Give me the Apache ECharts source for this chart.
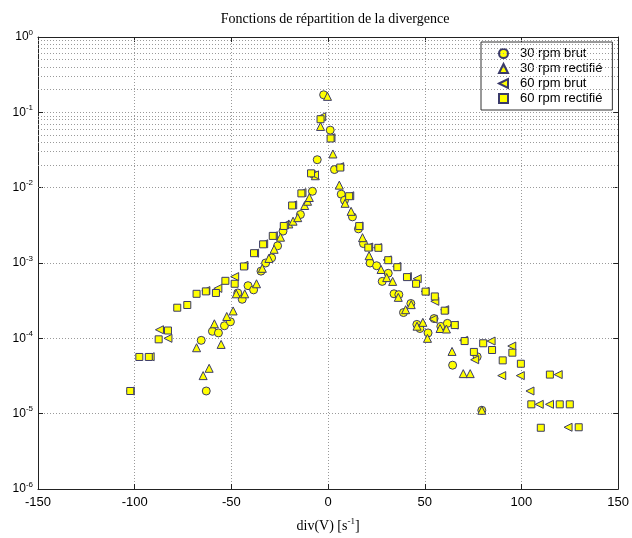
<!DOCTYPE html>
<html>
<head>
<meta charset="utf-8">
<script src="https://cdn.jsdelivr.net/npm/echarts@6/dist/echarts.min.js"></script>
<style>
html,body{margin:0;padding:0;background:#fff;}
#chart{width:632px;height:538px;}
</style>
</head>
<body>
<div id="chart"></div>
<script>
// ---- data ----
const seriesNames = ['30 rpm brut', '30 rpm rectifié', '60 rpm brut', '60 rpm rectifié'];

const c30brut = [[-65.6,9.4e-5],[-63.0,2.0e-5],[-59.8,1.24e-4],[-56.7,1.18e-4],[-53.6,1.47e-4],[-50.5,1.66e-4],[-46.7,4.0e-4],[-44.4,3.3e-4],[-41.4,5.0e-4],[-38.5,4.4e-4],[-34.7,7.8e-4],[-32.3,1.0e-3],[-29.2,1.17e-3],[-26.1,1.69e-3],[-23.3,2.65e-3],[-14.3,4.4e-3],[-8.1,8.95e-3],[-7.5,1.5e-2],[-5.6,2.35e-2],[-2.3,0.171],[1.1,0.058],[3.3,0.0174],[6.8,0.0082],[8.5,0.0068],[12.6,0.0041],[15.7,0.00284],[18.3,0.00181],[21.7,1.0e-3],[25.1,9.2e-4],[28.0,5.7e-4],[31.1,7.3e-4],[34.1,3.9e-4],[36.6,3.8e-4],[39.0,2.2e-4],[42.8,2.9e-4],[45.9,1.53e-4],[47.5,1.35e-4],[51.7,1.18e-4],[54.8,1.83e-4],[58.3,1.44e-4],[61.7,1.58e-4],[64.4,4.4e-5],[77.1,5.7e-5],[79.5,1.11e-5]];

const c30rect = [[-68.0,7.5e-5],[-64.6,3.2e-5],[-61.5,4.0e-5],[-58.8,1.56e-4],[-55.3,8.3e-5],[-52.4,1.95e-4],[-49.1,2.31e-4],[-47.5,3.9e-4],[-43.1,3.9e-4],[-37.0,5.3e-4],[-34.0,8.5e-4],[-30.6,1.15e-3],[-27.9,1.52e-3],[-24.6,2.2e-3],[-20.3,3.3e-3],[-18.1,3.59e-3],[-15.7,4.0e-3],[-12.1,5.8e-3],[-10.6,6.6e-3],[-9.7,7.4e-3],[-6.6,1.44e-2],[-3.9,0.065],[-0.3,0.163],[2.5,0.028],[5.8,0.0108],[8.8,0.0062],[11.9,0.00485],[17.8,0.00217],[21.2,0.00125],[27.4,8.2e-4],[30.3,6.4e-4],[33.4,5.7e-4],[36.3,3.5e-4],[40.1,2.4e-4],[43.0,2.8e-4],[46.0,1.45e-4],[49.0,1.63e-4],[51.4,1.0e-4],[57.9,1.35e-4],[61.2,1.33e-4],[64.1,6.7e-5],[69.9,3.4e-5],[73.5,3.4e-5],[79.5,1.11e-5]];

const c60brut = [[-102.3,2.0e-5],[-92.0,5.7e-5],[-87.2,1.3e-4],[-82.8,1.0e-4],[-63.2,4.3e-4],[-57.0,4.6e-4],[-48.3,6.6e-4],[-43.5,9.3e-4],[-38.0,1.35e-3],[-33.3,1.8e-3],[-28.3,2.3e-3],[-22.6,3.2e-3],[-18.3,5.9e-3],[-13.5,8.6e-3],[-7.0,1.48e-2],[-3.3,0.0875],[1.5,0.046],[6.0,0.019],[11.2,0.0078],[16.0,0.0031],[21.0,0.00163],[25.6,0.0016],[30.6,1.1e-3],[35.5,9.0e-4],[41.0,6.6e-4],[46.1,6.2e-4],[50.2,4.2e-4],[54.3,1.8e-4],[55.2,3.1e-4],[60.3,2.4e-4],[65.2,1.5e-4],[70.1,9.4e-5],[75.8,5.2e-5],[84.3,9.2e-5],[89.8,3.2e-5],[95.0,7.9e-5],[99.4,3.2e-5],[104.4,2.0e-5],[109.2,1.33e-5],[114.5,1.33e-5],[119.0,3.3e-5],[124.1,6.6e-6]];

const c60rect = [[-102.3,2.0e-5],[-97.6,5.66e-5],[-92.7,5.66e-5],[-87.6,9.7e-5],[-82.8,1.27e-4],[-78.0,2.55e-4],[-72.8,2.77e-4],[-68.0,3.9e-4],[-63.2,4.2e-4],[-58.0,4.0e-4],[-53.1,5.8e-4],[-48.3,5.3e-4],[-43.5,9.0e-4],[-38.3,1.35e-3],[-33.6,1.77e-3],[-28.6,2.29e-3],[-22.9,3.1e-3],[-18.6,5.8e-3],[-13.8,8.4e-3],[-8.8,1.55e-2],[-3.9,0.081],[1.3,0.045],[6.3,0.0185],[10.9,0.0077],[16.1,0.00309],[20.8,0.0016],[26.0,0.00159],[31.1,0.00109],[35.8,8.8e-4],[40.8,6.5e-4],[45.5,5.3e-4],[50.4,4.17e-4],[55.2,3.6e-4],[60.3,2.33e-4],[65.5,1.5e-4],[70.6,9.2e-5],[75.4,6.6e-5],[80.2,8.6e-5],[84.8,7.0e-5],[90.3,5.1e-5],[95.3,6.45e-5],[99.7,4.6e-5],[105.1,1.33e-5],[110.0,6.5e-6],[114.7,3.3e-5],[119.8,1.33e-5],[125.0,1.33e-5],[129.6,6.6e-6]];

// axis extents / grid helpers
const xMin = -150, xMax = 150, xStep = 50;
const yMin = 1e-6, yMax = 1;
const decades = [1e-6, 1e-5, 1e-4, 1e-3, 1e-2, 1e-1];
const minorMultipliers = [2, 3, 4, 5, 6, 7, 8, 9];

// ---- build chart ----
const minorLines = [];
decades.forEach(d => minorMultipliers.forEach(m => minorLines.push({ yAxis: d * m })));

const fill = '#ffff00';
const edge = '#3a3a6a';
const triLeft = 'path://M0,5 L10,0 L10,10 Z';

const chart = echarts.init(document.getElementById('chart'), null, { renderer: 'canvas' });

const gridLine = { show: true, lineStyle: { color: '#9a9a9a', type: [1, 2], width: 1 } };
const tick = { show: true, inside: true, length: 5, lineStyle: { color: '#222' } };
const axLine = { show: true, onZero: false, lineStyle: { color: '#222', width: 1 } };

function mk(name, data, symbol, size) {
  return {
    name: name, type: 'scatter', data: data, symbol: symbol, symbolSize: size,
    itemStyle: { color: fill, borderColor: edge, borderWidth: 1, opacity: 1 },
    emphasis: { disabled: true }, animation: false, z: 5
  };
}

chart.setOption({
  backgroundColor: '#fff',
  animation: false,
  title: {
    text: 'Fonctions de répartition de la divergence',
    left: 330, top: 7, textAlign: 'center',
    textStyle: { fontFamily: 'Liberation Serif', fontSize: 14, fontWeight: 'normal', color: '#000' }
  },
  grid: { left: 38, right: 11, top: 37, bottom: 43, containLabel: false },
  legend: {
    orient: 'vertical', left: 481, top: 42,
    padding: [5, 10, 5, 17],
    borderColor: '#333', borderWidth: 1, backgroundColor: '#fff',
    itemWidth: 9, itemHeight: 9, itemGap: 2,
    textStyle: { fontFamily: 'Liberation Sans', fontSize: 13, color: '#000', padding: [0, 0, 0, 7] },
    data: seriesNames
  },
  xAxis: [{
    type: 'value', min: xMin, max: xMax, interval: xStep,
    axisLine: axLine, axisTick: tick, splitLine: gridLine,
    axisLabel: { color: '#000', fontFamily: 'Liberation Sans', fontSize: 13, margin: 7 },
    name: '{n|div(V) [s}{s|-1}{n|]}', nameLocation: 'middle', nameGap: 28,
    nameTextStyle: {
      rich: {
        n: { fontFamily: 'Liberation Serif', fontSize: 14, color: '#000' },
        s: { fontFamily: 'Liberation Serif', fontSize: 9, color: '#000', padding: [0, 0, 9, 0] }
      }
    }
  }, {
    type: 'value', position: 'top', min: xMin, max: xMax, interval: xStep,
    axisLine: axLine, axisTick: tick, splitLine: { show: false }, axisLabel: { show: false }
  }],
  yAxis: [{
    type: 'log', logBase: 10, min: yMin, max: yMax,
    axisLine: axLine, axisTick: tick, splitLine: gridLine,
    axisLabel: {
      margin: 5,
      formatter: v => '{b|10}{e|' + Math.round(Math.log10(v)) + '}',
      rich: {
        b: { fontFamily: 'Liberation Sans', fontSize: 12, color: '#000' },
        e: { fontFamily: 'Liberation Sans', fontSize: 8, color: '#000', padding: [0, 0, 9, 0] }
      }
    }
  }, {
    type: 'log', logBase: 10, min: yMin, max: yMax, position: 'right',
    axisLine: axLine, axisTick: tick, splitLine: { show: false }, axisLabel: { show: false }
  }],
  series: [
    {
      type: 'scatter', data: [], silent: true, z: 1,
      markLine: {
        silent: true, symbol: ['none', 'none'], animation: false,
        label: { show: false },
        lineStyle: { color: '#9a9a9a', type: [1, 2], width: 1 },
        emphasis: { disabled: true },
        data: minorLines
      }
    },
    mk(seriesNames[0], c30brut, 'circle', 8),
    mk(seriesNames[1], c30rect, 'triangle', 8),
    mk(seriesNames[2], c60brut, triLeft, 8),
    mk(seriesNames[3], c60rect, 'rect', 7)
  ]
});
</script>
</body>
</html>
